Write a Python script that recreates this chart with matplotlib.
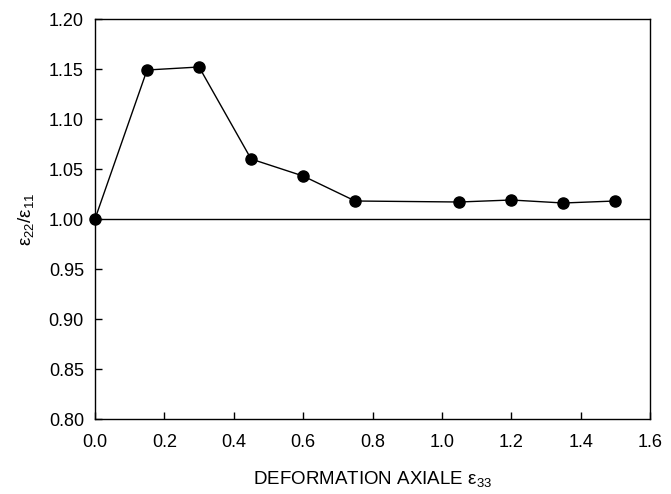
import matplotlib
matplotlib.use("Agg")
import matplotlib.pyplot as plt

plt.rcParams['font.family'] = ['Liberation Sans', 'DejaVu Sans']
plt.rcParams['mathtext.fontset'] = 'custom'
plt.rcParams['mathtext.rm'] = 'Liberation Sans'
plt.rcParams['mathtext.it'] = 'Liberation Sans'

strain = [0.0, 0.15, 0.30, 0.45, 0.60, 0.75, 1.05, 1.20, 1.35, 1.50]
ratio = [1.000, 1.149, 1.152, 1.060, 1.043, 1.018, 1.017, 1.019, 1.016, 1.018]
xticks = [0.0, 0.2, 0.4, 0.6, 0.8, 1.0, 1.2, 1.4, 1.6]
yticks = [0.80, 0.85, 0.90, 0.95, 1.00, 1.05, 1.10, 1.15, 1.20]

fig = plt.figure(figsize=(6.71, 4.94), dpi=100)
ax = fig.add_axes([95/671, 1 - 419/494, (650-95)/671, (419-19)/494])

ax.axhline(1.0, color='black', lw=1.0, zorder=1)
ax.plot(strain, ratio, color='black', lw=1.0, marker='o', markersize=8,
        clip_on=False, zorder=3)

ax.set_xlim(0.0, 1.6)
ax.set_ylim(0.80, 1.20)
ax.set_xticks(xticks)
ax.set_xticklabels([f"{v:.1f}" for v in xticks])
ax.set_yticks(yticks)
ax.set_yticklabels([f"{v:.2f}" for v in yticks])
ax.tick_params(direction='in', length=5, width=1, labelsize=13,
               top=False, right=False)
ax.tick_params(axis='x', pad=11)
ax.tick_params(axis='y', pad=8)
for s in ax.spines.values():
    s.set_linewidth(1.0)

ax.set_xlabel(r"DEFORMATION AXIALE $\mathregular{\varepsilon_{33}}$", fontsize=13.5, labelpad=13)
ax.set_ylabel(r"$\mathregular{\varepsilon_{22}/\varepsilon_{11}}$", fontsize=13.5, labelpad=9)

fig.savefig("out.png", dpi=100)
